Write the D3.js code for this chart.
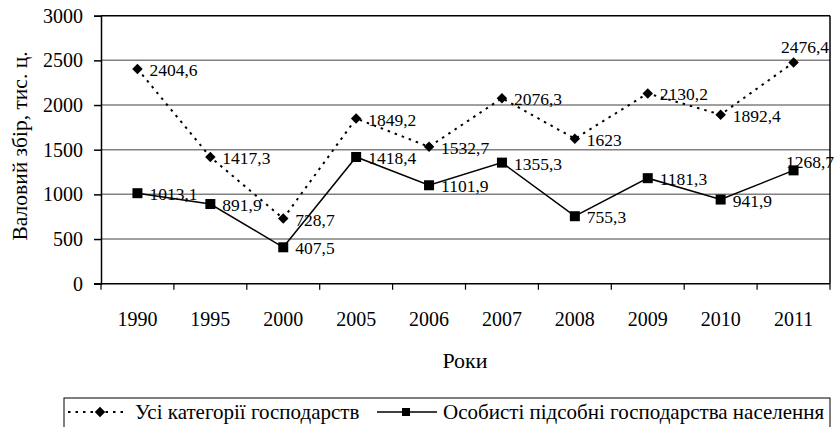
<!DOCTYPE html>
<html><head><meta charset="utf-8">
<script src="https://cdn.jsdelivr.net/npm/d3@7"></script>
<style>
body{margin:0;background:#fff;}
</style></head>
<body><svg id="c" width="835" height="427"></svg>
<script>
const years = ["1990","1995","2000","2005","2006","2007","2008","2009","2010","2011"];
const allCategories = [2404.6,1417.3,728.7,1849.2,1532.7,2076.3,1623,2130.2,1892.4,2476.4];
const households = [1013.1,891.9,407.5,1418.4,1101.9,1355.3,755.3,1181.3,941.9,1268.7];
const yTicks = [0,500,1000,1500,2000,2500,3000];
const seriesNames = ["Усі категорії господарств","Особисті підсобні господарства населення"];
const yTitle = "Валовий збір, тис. ц.";
const xTitle = "Роки";

const FF = "Liberation Serif";
const W=835,H=427, m={l:101,r:5,t:16,b:144};
const svg=d3.select("#c");
const x=d3.scaleBand().domain(years).range([m.l,W-m.r]);
const y=d3.scaleLinear().domain([0,3000]).range([H-m.b+0.7,m.t-0.3]);
const fmt=v=>String(v).replace(".",",");

// gridlines
svg.append("g").selectAll("line").data(yTicks.filter(t=>t>0&&t<3000)).join("line")
 .attr("x1",m.l).attr("x2",W-m.r).attr("y1",d=>y(d)).attr("y2",d=>y(d))
 .attr("stroke","#808080").attr("stroke-width",1.5);
// frame top/right
svg.append("line").attr("x1",m.l).attr("x2",W-m.r).attr("y1",y(3000)).attr("y2",y(3000)).attr("stroke","#000").attr("stroke-width",1.5);
svg.append("line").attr("x1",W-m.r).attr("x2",W-m.r).attr("y1",y(3000)).attr("y2",y(0)).attr("stroke","#000").attr("stroke-width",1.5);

// y axis
const ya=svg.append("g").attr("transform",`translate(${m.l},0)`)
 .call(d3.axisLeft(y).tickValues(yTicks).tickSize(7).tickPadding(11).tickFormat(d3.format("d")));
ya.attr("font-family",null).attr("font-size",null);
ya.select(".domain").attr("stroke-width",1.5);
ya.selectAll("line").attr("stroke-width",1.5);
ya.selectAll("text").attr("font-size",20).attr("fill","#000");

// x axis with ticks at band boundaries
const xa=svg.append("g").attr("transform",`translate(0,${y(0)})`);
xa.append("line").attr("x1",m.l-7).attr("x2",W-m.r).attr("stroke","#000").attr("stroke-width",1.5);
const bounds=years.map(d=>x(d)).concat([W-m.r]);
xa.selectAll(".tk").data(bounds).join("line").attr("class","tk")
 .attr("x1",d=>d).attr("x2",d=>d).attr("y1",0).attr("y2",6).attr("stroke","#000").attr("stroke-width",1.2);
xa.selectAll(".lb").data(years).join("text").attr("class","lb")
 .attr("x",d=>x(d)+x.bandwidth()/2).attr("y",42).attr("text-anchor","middle")
 .attr("font-size",20).text(d=>d);

// titles
svg.append("text").attr("transform",`translate(27,146) rotate(-90)`)
 .attr("text-anchor","middle").attr("font-size",21.5).text(yTitle);
svg.append("text").attr("x",465).attr("y",368).attr("text-anchor","middle")
 .attr("font-size",22).text(xTitle);

const cx=(d,i)=>x(years[i])+x.bandwidth()/2;
const line=d3.line().x((d,i)=>cx(d,i)).y(d=>y(d));
svg.append("path").attr("d",line(allCategories)).attr("fill","none").attr("stroke","#000")
 .attr("stroke-width",2).attr("stroke-dasharray","2.5,5");
svg.append("path").attr("d",line(households)).attr("fill","none").attr("stroke","#000").attr("stroke-width",1.5);

const diamond=d3.symbol().type(d3.symbolDiamond2).size(70);
svg.append("g").selectAll("path").data(allCategories).join("path")
 .attr("d",diamond).attr("transform",(d,i)=>`translate(${cx(d,i)},${y(d)})`).attr("fill","#000");
svg.append("g").selectAll("rect").data(households).join("rect")
 .attr("x",(d,i)=>cx(d,i)-5).attr("y",d=>y(d)-5).attr("width",10).attr("height",10).attr("fill","#000");

// data labels
const last=years.length-1;
svg.append("g").selectAll("text").data(allCategories).join("text")
 .attr("x",(d,i)=>i===last?W-m.r-1:cx(d,i)+12)
 .attr("y",(d,i)=>i===last?y(d)-9:y(d)+7)
 .attr("text-anchor",(d,i)=>i===last?"end":"start")
 .attr("font-size",17.5).text(fmt);
svg.append("g").selectAll("text").data(households).join("text")
 .attr("x",(d,i)=>i===last?W-1:cx(d,i)+12)
 .attr("y",(d,i)=>i===last?y(d)-2:y(d)+7)
 .attr("text-anchor",(d,i)=>i===last?"end":"start")
 .attr("font-size",17.5).text(fmt);

// legend
const lg=svg.append("g");
lg.append("rect").attr("x",64).attr("y",398).attr("width",766).attr("height",40)
 .attr("fill","none").attr("stroke","#000").attr("stroke-width",1);
const ly=412;
lg.append("line").attr("x1",68).attr("x2",126).attr("y1",ly).attr("y2",ly).attr("stroke","#000")
 .attr("stroke-width",2).attr("stroke-dasharray","2.5,5");
lg.append("path").attr("d",diamond).attr("transform",`translate(100,${ly})`).attr("fill","#000");
lg.append("text").attr("x",135).attr("y",ly+7).attr("font-size",21).text(seriesNames[0]);
lg.append("line").attr("x1",377).attr("x2",437).attr("y1",ly).attr("y2",ly).attr("stroke","#000").attr("stroke-width",1.5);
lg.append("rect").attr("x",402).attr("y",ly-4).attr("width",8).attr("height",8).attr("fill","#000");
lg.append("text").attr("x",443).attr("y",ly+7).attr("font-size",21).text(seriesNames[1]);

svg.selectAll("text").attr("font-family",FF).style("font-family",FF);
</script></body></html>
